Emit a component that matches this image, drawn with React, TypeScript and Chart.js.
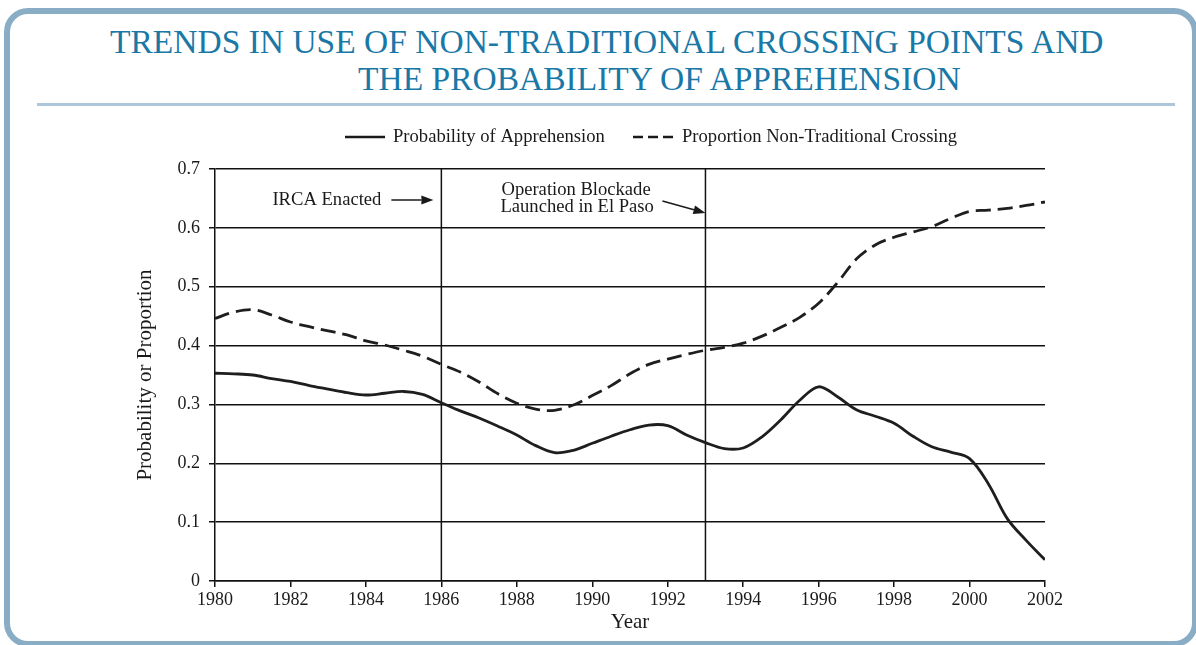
import React, { useEffect, useRef } from "react";
import { Chart, registerables } from "chart.js";

Chart.register(...registerables);

// ---- Data ----
const YEARS = [
  1980, 1980.5, 1981, 1981.5, 1982, 1982.5, 1983, 1983.5, 1984, 1984.5,
  1985, 1985.5, 1986, 1986.5, 1987, 1987.5, 1988, 1988.5, 1989, 1989.5,
  1990, 1990.5, 1991, 1991.5, 1992, 1992.5, 1993, 1993.5, 1994, 1994.5,
  1995, 1995.5, 1996, 1996.5, 1997, 1997.5, 1998, 1998.5, 1999, 1999.5,
  2000, 2000.5, 2001, 2001.5, 2002,
];

const PROB_APPREHENSION = [
  0.353, 0.352, 0.35, 0.344, 0.339, 0.332, 0.326, 0.32, 0.316, 0.319,
  0.322, 0.317, 0.303, 0.289, 0.277, 0.263, 0.248, 0.23, 0.218, 0.222,
  0.234, 0.246, 0.257, 0.265, 0.264, 0.248, 0.235, 0.225, 0.226, 0.245,
  0.274, 0.307, 0.33, 0.313, 0.291, 0.28, 0.268, 0.246, 0.228, 0.219,
  0.208, 0.165, 0.106, 0.069, 0.036,
];

const PROP_NON_TRADITIONAL = [
  0.446, 0.457, 0.461, 0.452, 0.44, 0.432, 0.425, 0.418, 0.408, 0.401,
  0.392, 0.382, 0.368, 0.355, 0.338, 0.318, 0.302, 0.292, 0.29, 0.299,
  0.315, 0.332, 0.352, 0.368, 0.377, 0.385, 0.392, 0.397, 0.404, 0.416,
  0.431, 0.448, 0.472, 0.507, 0.547, 0.571, 0.584, 0.593, 0.602, 0.616,
  0.628, 0.63, 0.633, 0.638, 0.644,
];

const SERIES_NAMES = ["Probability of Apprehension", "Proportion Non-Traditional Crossing"];
const X_TICKS = [1980, 1982, 1984, 1986, 1988, 1990, 1992, 1994, 1996, 1998, 2000, 2002];
const X_TICK_LABELS = ["1980", "1982", "1984", "1986", "1988", "1990", "1992", "1994", "1996", "1998", "2000", "2002"];
const Y_TICKS = [0, 0.1, 0.2, 0.3, 0.4, 0.5, 0.6, 0.7];
const Y_TICK_LABELS = ["0", "0.1", "0.2", "0.3", "0.4", "0.5", "0.6", "0.7"];
const EVENT_YEARS = [1986, 1993];
const EVENT_LABELS = [["IRCA Enacted"], ["Operation Blockade", "Launched in El Paso"]];
const TITLE_LINES = ["TRENDS IN USE OF NON-TRADITIONAL CROSSING POINTS AND", "THE PROBABILITY OF APPREHENSION"];
const X_TITLE = "Year";
const Y_TITLE = "Probability or Proportion";

const FONT = "'Liberation Serif', 'Times New Roman', serif";
const INK = "#1a1a1a";

function arrow(ctx: CanvasRenderingContext2D, x1: number, y1: number, x2: number, y2: number) {
  const ang = Math.atan2(y2 - y1, x2 - x1);
  const len = 12;
  const hw = 4.5;
  const bx = x2 - len * Math.cos(ang);
  const by = y2 - len * Math.sin(ang);
  ctx.beginPath();
  ctx.moveTo(x1, y1);
  ctx.lineTo(bx, by);
  ctx.stroke();
  ctx.beginPath();
  ctx.moveTo(x2, y2);
  ctx.lineTo(bx - hw * Math.sin(ang), by + hw * Math.cos(ang));
  ctx.lineTo(bx + hw * Math.sin(ang), by - hw * Math.cos(ang));
  ctx.closePath();
  ctx.fill();
}

const overlayPlugin = {
  id: "overlay",
  beforeDatasetsDraw(chart: any) {
    const { ctx, chartArea, scales } = chart;
    const x = scales.x;
    ctx.save();
    ctx.strokeStyle = "#111";
    ctx.lineWidth = 1.5;
    EVENT_YEARS.forEach((yr) => {
      const px = x.getPixelForValue(yr);
      ctx.beginPath();
      ctx.moveTo(px, chartArea.top);
      ctx.lineTo(px, chartArea.bottom);
      ctx.stroke();
    });
    ctx.restore();
  },
  afterDraw(chart: any) {
    const { ctx, chartArea, scales } = chart;
    const x = scales.x;
    const L = chartArea.left;
    const T = chartArea.top;
    ctx.save();
    ctx.font = `18.6px ${FONT}`;
    ctx.fillStyle = INK;
    ctx.strokeStyle = INK;
    ctx.textBaseline = "middle";

    // Legend
    const ly = T - 32;
    ctx.lineWidth = 2.6;
    ctx.setLineDash([]);
    ctx.beginPath();
    ctx.moveTo(L + 130, ly);
    ctx.lineTo(L + 170, ly);
    ctx.stroke();
    ctx.textAlign = "left";
    ctx.fillText(SERIES_NAMES[0], L + 178, ly);
    ctx.setLineDash([10, 5]);
    ctx.beginPath();
    ctx.moveTo(L + 418, ly);
    ctx.lineTo(L + 458, ly);
    ctx.stroke();
    ctx.setLineDash([]);
    ctx.fillText(SERIES_NAMES[1], L + 467, ly);

    // Event annotations
    ctx.lineWidth = 1.5;
    const p1 = x.getPixelForValue(EVENT_YEARS[0]);
    ctx.textAlign = "right";
    ctx.fillText(EVENT_LABELS[0][0], p1 - 60, T + 31);
    arrow(ctx, p1 - 50, T + 31, p1 - 8, T + 31);

    const p2 = x.getPixelForValue(EVENT_YEARS[1]);
    ctx.textAlign = "left";
    ctx.fillText(EVENT_LABELS[1][0], p2 - 204, T + 21);
    ctx.fillText(EVENT_LABELS[1][1], p2 - 205, T + 38);
    arrow(ctx, p2 - 43, T + 32, p2, T + 44);
    ctx.restore();
  },
};

export default function App() {
  const canvasRef = useRef<HTMLCanvasElement | null>(null);

  useEffect(() => {
    if (!canvasRef.current) return;
    Chart.defaults.font.family = FONT;
    const chart = new Chart(canvasRef.current, {
      type: "line",
      data: {
        datasets: [
          {
            label: SERIES_NAMES[0],
            data: YEARS.map((yr, i) => ({ x: yr, y: PROB_APPREHENSION[i] })),
            borderColor: "#1e1e1e",
            borderWidth: 2.8,
            tension: 0.35,
            pointRadius: 0,
            fill: false,
          },
          {
            label: SERIES_NAMES[1],
            data: YEARS.map((yr, i) => ({ x: yr, y: PROP_NON_TRADITIONAL[i] })),
            borderColor: "#1e1e1e",
            borderWidth: 2.8,
            borderDash: [15, 7],
            tension: 0.35,
            pointRadius: 0,
            fill: false,
          },
        ],
      },
      options: {
        animation: false,
        responsive: false,
        maintainAspectRatio: false,
        devicePixelRatio: 1,
        layout: { padding: { left: 120, right: 151, top: 169, bottom: 10 } },
        plugins: { legend: { display: false }, tooltip: { enabled: false } },
        scales: {
          x: {
            type: "linear",
            min: 1980,
            max: 2002,
            afterBuildTicks: (s: any) => {
              s.ticks = X_TICKS.map((v) => ({ value: v }));
            },
            afterFit: (s: any) => {
              s.height = 54;
            },
            ticks: {
              callback: (_v: any, i: number) => X_TICK_LABELS[i],
              font: { size: 18, family: FONT },
              color: INK,
              padding: 2,
              maxRotation: 0,
              autoSkip: false,
            },
            grid: { display: true, drawOnChartArea: false, drawTicks: true, tickLength: 6, color: "#111", lineWidth: 1.5 },
            border: { display: true, color: "#111", width: 1.5 },
            title: { display: true, text: X_TITLE, font: { size: 21, family: FONT }, color: INK, padding: 0 },
          },
          y: {
            min: 0,
            max: 0.7,
            afterBuildTicks: (s: any) => {
              s.ticks = Y_TICKS.map((v) => ({ value: v }));
            },
            afterFit: (s: any) => {
              s.width = 95;
            },
            ticks: {
              callback: (_v: any, i: number) => Y_TICK_LABELS[i],
              font: { size: 18, family: FONT },
              color: INK,
              padding: 9,
            },
            grid: { color: "#111", lineWidth: 1.5, tickLength: 6, drawTicks: true },
            border: { display: true, color: "#111", width: 1.5 },
            title: { display: true, text: Y_TITLE, font: { size: 21, family: FONT }, color: INK, padding: { top: 13, bottom: 0 } },
          },
        },
      },
      plugins: [overlayPlugin],
    } as any);
    return () => chart.destroy();
  }, []);

  return (
    <div style={{ position: "absolute", left: 0, top: 0, width: 1196, height: 645, overflow: "hidden", background: "#fff" }}>
      <div
        style={{
          position: "absolute",
          left: 4,
          top: 8,
          width: 1194,
          height: 639,
          boxSizing: "border-box",
          border: "6px solid #88adc5",
          borderRadius: 24,
        }}
      />
      <div
        style={{
          position: "absolute",
          left: 110,
          top: 25,
          fontFamily: FONT,
          fontSize: 33.5,
          lineHeight: "33.5px",
          color: "#1a78a6",
          whiteSpace: "nowrap",
        }}
      >
        {TITLE_LINES[0]}
      </div>
      <div
        style={{
          position: "absolute",
          left: 358,
          top: 62,
          fontFamily: FONT,
          fontSize: 33.5,
          lineHeight: "33.5px",
          color: "#1a78a6",
          whiteSpace: "nowrap",
        }}
      >
        {TITLE_LINES[1]}
      </div>
      <div style={{ position: "absolute", left: 37, top: 103, width: 1138, height: 3, background: "#adc6d9" }} />
      <canvas
        ref={canvasRef}
        width={1196}
        height={645}
        style={{ position: "absolute", left: 0, top: 0, width: 1196, height: 645 }}
      />
    </div>
  );
}
